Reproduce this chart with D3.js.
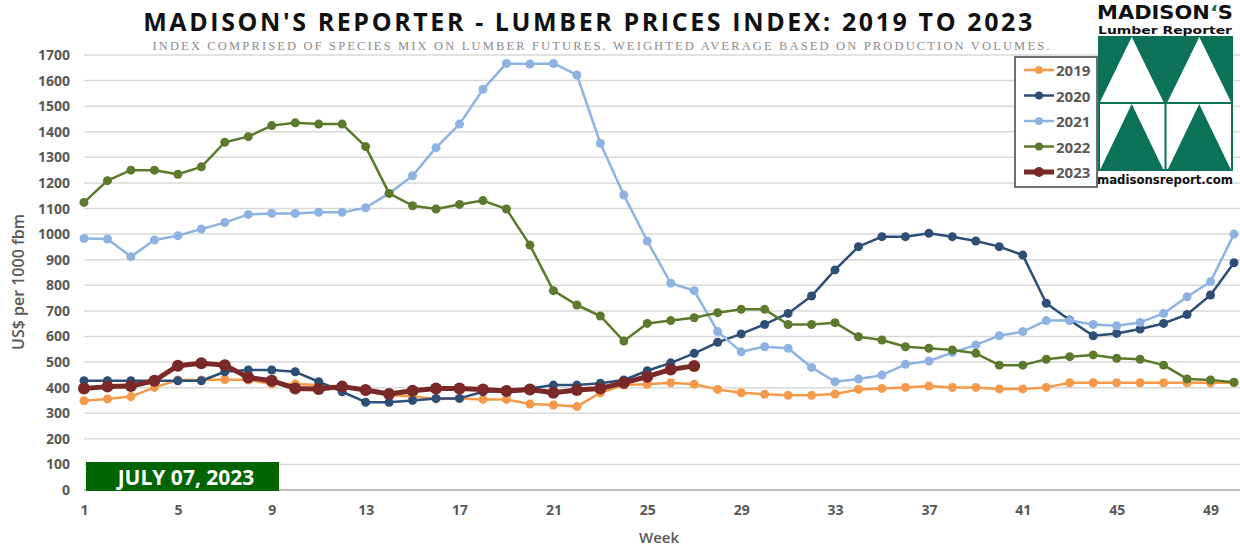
<!DOCTYPE html>
<html>
<head>
<meta charset="utf-8">
<script src="https://cdn.jsdelivr.net/npm/d3@7"></script>
<style>
  body { margin: 0; background: #fff; }
  svg { display: block; }
</style>
</head>
<body>
<svg id="chart"></svg>
<script>
// weekly index values
const weeks = d3.range(1, 51);
const years = ["2019", "2020", "2021", "2022", "2023"];
const v2019 = [349,356,365,401,430,430,432,430,414,414,410,404,386,371,365,356,358,354,354,336,332,326,380,410,413,419,413,393,380,374,370,370,375,393,397,401,406,401,401,395,395,401,419,419,419,419,419,419,419,419];
const v2020 = [427,427,427,427,427,427,462,469,469,462,423,384,343,343,350,358,358,384,387,397,410,410,417,430,466,497,534,577,610,647,690,758,860,951,990,990,1003,990,973,951,918,730,664,603,612,629,651,686,762,888];
const v2021 = [983,981,912,977,994,1020,1045,1077,1081,1081,1085,1085,1103,1159,1228,1338,1430,1566,1667,1665,1667,1622,1355,1153,973,808,779,619,540,560,554,479,423,434,449,491,504,537,567,603,619,662,662,647,642,655,690,755,814,1000];
const v2022 = [1124,1209,1250,1250,1234,1263,1359,1381,1424,1435,1430,1430,1342,1159,1111,1098,1116,1131,1098,957,779,723,680,582,651,662,673,693,706,706,647,647,654,599,586,560,554,547,534,488,488,511,521,528,515,511,488,434,430,421];
const v2023 = [397,404,406,427,486,495,488,440,427,397,395,404,391,375,388,397,397,393,387,393,380,391,397,419,443,471,485];
const yTicks = d3.range(0, 1800, 100);
const xTicks = [1,5,9,13,17,21,25,29,33,37,41,45,49];

const seriesValues = [v2019, v2020, v2021, v2022, v2023];
const colors = ["#f59a4a", "#2c4e77", "#8db3e2", "#5c7a2c", "#7a2828"];

const width = 1240, height = 547;
const svg = d3.select("#chart").attr("width", width).attr("height", height);

const x = d3.scaleLinear().domain([1, 50]).range([84, 1234]);
const y = d3.scaleLinear().domain([0, 1700]).range([490, 55]);

// gridlines
svg.append("g")
    .selectAll("line")
    .data(yTicks.filter(d => d > 0))
    .join("line")
    .attr("x1", 84).attr("x2", 1240)
    .attr("y1", d => y(d)).attr("y2", d => y(d))
    .attr("stroke", "#d9d9d9").attr("stroke-width", 1.5);

// y axis labels
const yAxis = svg.append("g")
    .attr("transform", "translate(70,0)")
    .call(d3.axisLeft(y).tickValues(yTicks).tickFormat(d3.format("d")).tickSize(0).tickPadding(0));
yAxis.select(".domain").remove();
yAxis.selectAll("text")
    .attr("font-family", "Open Sans").attr("font-weight", 700)
    .attr("font-size", 14).attr("fill", "#595959");

// x axis
svg.append("line")
    .attr("x1", 84).attr("x2", 1240)
    .attr("y1", y(0)).attr("y2", y(0))
    .attr("stroke", "#bfbfbf").attr("stroke-width", 2);

const xAxis = svg.append("g")
    .attr("transform", `translate(0,${y(0) + 15})`)
    .call(d3.axisBottom(x).tickValues(xTicks).tickFormat(d3.format("d")).tickSize(0).tickPadding(0));
xAxis.select(".domain").remove();
xAxis.selectAll("text")
    .attr("font-family", "Open Sans").attr("font-weight", 700)
    .attr("font-size", 14).attr("fill", "#595959");

// axis titles
svg.append("text")
    .attr("transform", "translate(24,282) rotate(-90)")
    .attr("text-anchor", "middle")
    .attr("font-family", "Open Sans").attr("font-weight", 600).attr("font-size", 16).attr("fill", "#595959")
    .text("US$ per 1000 fbm");

svg.append("text")
    .attr("x", 659).attr("y", 543)
    .attr("text-anchor", "middle")
    .attr("font-family", "Open Sans").attr("font-weight", 600).attr("font-size", 15).attr("fill", "#595959")
    .text("Week");

// date box
svg.append("rect")
    .attr("x", 86).attr("y", 462).attr("width", 193).attr("height", 29)
    .attr("fill", "#006400");
svg.append("text")
    .attr("x", 186).attr("y", 484.5)
    .attr("text-anchor", "middle")
    .attr("font-family", "Open Sans").attr("font-weight", 700).attr("font-size", 21).attr("fill", "#fff")
    .text("JULY 07, 2023");

// series lines
const line = d3.line().x((d, i) => x(i + 1)).y(d => y(d));
seriesValues.forEach((vals, k) => {
    let thick = k == 4;
    let g = svg.append("g");
    g.append("path")
        .datum(vals)
        .attr("d", line)
        .attr("fill", "none")
        .attr("stroke", colors[k])
        .attr("stroke-width", thick ? 5 : 2.5)
        .attr("stroke-linejoin", "round");
    g.selectAll("circle")
        .data(vals)
        .join("circle")
        .attr("cx", (d, i) => x(i + 1))
        .attr("cy", d => y(d))
        .attr("r", thick ? 6 : 4.5)
        .attr("fill", colors[k]);
});

// title
svg.append("text")
    .attr("x", 589).attr("y", 31)
    .attr("text-anchor", "middle")
    .attr("font-family", "Open Sans").attr("font-weight", 700).attr("font-size", 25)
    .attr("letter-spacing", 2.6).attr("fill", "#111")
    .text("MADISON'S REPORTER - LUMBER PRICES INDEX: 2019 TO 2023");

svg.append("text")
    .attr("x", 602).attr("y", 50)
    .attr("text-anchor", "middle")
    .attr("font-family", "Liberation Serif").attr("font-size", 12.5)
    .attr("letter-spacing", 2.15).attr("fill", "#8c8c8c")
    .text("INDEX COMPRISED OF SPECIES MIX ON LUMBER FUTURES. WEIGHTED AVERAGE BASED ON PRODUCTION VOLUMES.");

// legend
const legend = svg.append("g");
legend.append("rect")
    .attr("x", 1015).attr("y", 57).attr("width", 82).attr("height", 130)
    .attr("fill", "#fff").attr("stroke", "#404040").attr("stroke-width", 1.5);
years.forEach((yr, k) => {
    let ly = 70 + k * 25.5;
    let thick = k == 4;
    legend.append("line")
        .attr("x1", 1024).attr("x2", 1054).attr("y1", ly).attr("y2", ly)
        .attr("stroke", colors[k]).attr("stroke-width", thick ? 5 : 2.5);
    legend.append("circle")
        .attr("cx", 1039).attr("cy", ly).attr("r", thick ? 5 : 4)
        .attr("fill", colors[k]);
    legend.append("text")
        .attr("x", 1056).attr("y", ly + 6)
        .attr("font-family", "Open Sans").attr("font-weight", 700).attr("font-size", 15).attr("fill", "#595959")
        .text(yr);
});

// logo
const green = "#0b7257";
const logo = svg.append("g");
logo.append("text")
    .attr("x", 1097).attr("y", 19)
    .attr("textLength", 136).attr("lengthAdjust", "spacingAndGlyphs")
    .attr("font-family", "DejaVu Sans").attr("font-weight", 700).attr("font-size", 19).attr("fill", "#111")
    .html('MADISON<tspan fill="' + green + '">‘</tspan>S');
logo.append("text")
    .attr("x", 1098).attr("y", 33.5)
    .attr("textLength", 134).attr("lengthAdjust", "spacingAndGlyphs")
    .attr("font-family", "DejaVu Sans").attr("font-weight", 700).attr("font-size", 11).attr("fill", "#111")
    .text("Lumber Reporter");

const lx0 = 1098, lx1 = 1233, lmid = 1165.5, ly0 = 36, lym = 103, ly1 = 170;
logo.append("rect")
    .attr("x", lx0).attr("y", ly0).attr("width", lx1 - lx0).attr("height", lym - ly0)
    .attr("fill", green);
logo.append("rect")
    .attr("x", lx0 + 1).attr("y", lym).attr("width", lx1 - lx0 - 2).attr("height", ly1 - lym)
    .attr("fill", "#fff").attr("stroke", green).attr("stroke-width", 2);
[[lx0, lmid], [lmid, lx1]].forEach(([a, b]) => {
    let c = (a + b) / 2;
    logo.append("path")
        .attr("d", `M${a + 2},${lym - 1}L${c},${ly0 + 1}L${b - 2},${lym - 1}Z`)
        .attr("fill", "#fff");
    logo.append("path")
        .attr("d", `M${a + 2},${ly1}L${c},${lym + 1}L${b - 2},${ly1}Z`)
        .attr("fill", green);
});
logo.append("line")
    .attr("x1", lmid).attr("x2", lmid).attr("y1", lym).attr("y2", ly1)
    .attr("stroke", green).attr("stroke-width", 2);
logo.append("text")
    .attr("x", 1097).attr("y", 184)
    .attr("textLength", 136).attr("lengthAdjust", "spacingAndGlyphs")
    .attr("font-family", "DejaVu Sans").attr("font-weight", 700).attr("font-size", 12).attr("fill", "#111")
    .text("madisonsreport.com");
</script>
</body>
</html>
